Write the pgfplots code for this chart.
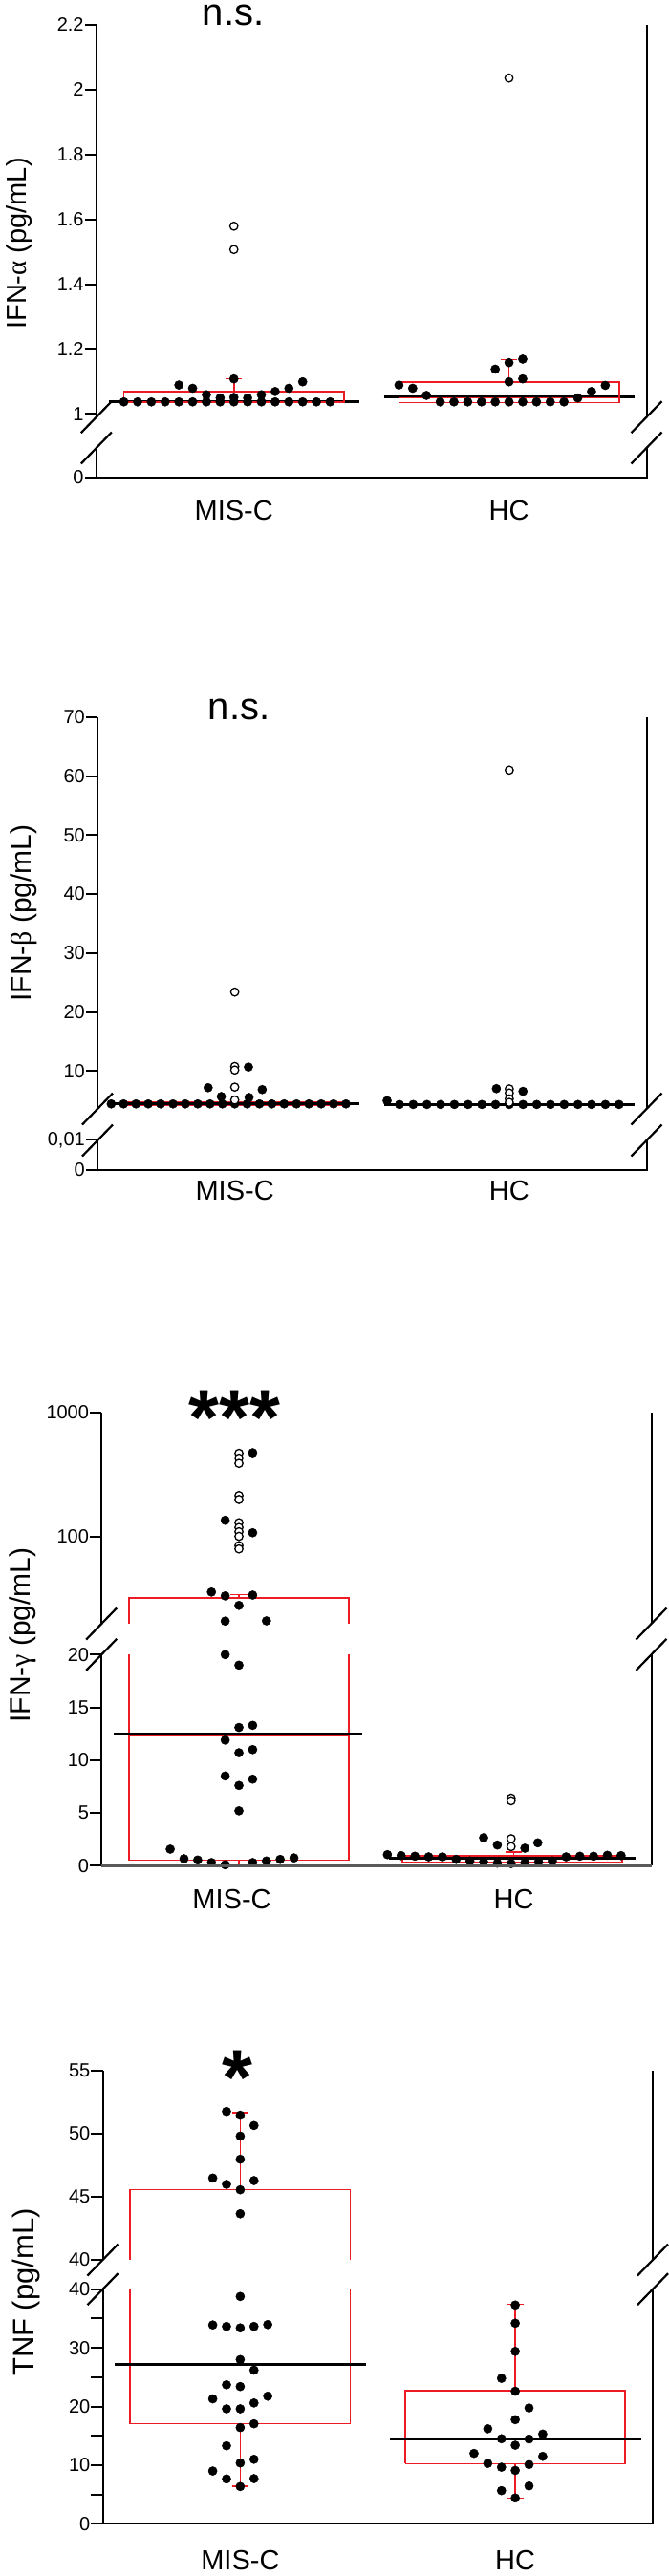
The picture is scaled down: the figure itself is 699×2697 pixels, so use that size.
\documentclass[border=0pt]{standalone}
\usepackage{pgfplots}
\pgfplotsset{compat=1.18}
\usepackage{fontspec}
\setmainfont{Liberation Sans}
\newfontfamily\grk{Liberation Serif}
\definecolor{boxred}{RGB}{237,28,36}
\newcommand{\tickA}{\fontsize{20}{23}\selectfont}
\newcommand{\tickB}{\fontsize{20}{23}\selectfont}
\newcommand{\labf}{\fontsize{29}{34}\selectfont}
\newcommand{\brkmark}[2]{\draw[line width=2.2pt] ({#1pt-16pt},{-#2pt-16.5pt}) -- ({#1pt+16pt},{-#2pt+16.5pt});}
\pgfplotsset{
  brk/.style={scale only axis, xmin=-0.5, xmax=1.5, axis line style={draw=none},
    xtick=\empty, ytick pos=left, tick align=outside, major tick length=12pt, minor tick length=12pt,
    tick style={black, line width=2pt}, yticklabel style={inner sep=1pt, font=\tickB},
    scaled y ticks=false,
    /pgf/number format/assume math mode=true, /pgf/number format/1000 sep={}},
  low/.style={xtick={0,1}, xticklabels={MIS-C,HC}, xtick style={draw=none},
    xticklabel style={font=\labf, anchor=center, yshift=-23pt}},
  dots/.style={only marks, mark=*, mark size=4.6pt, mark options={fill=black, draw=black, line width=0.4pt}},
  opens/.style={only marks, mark=*, mark size=4.2pt, mark options={fill=white, draw=black, line width=1.3pt}},
  rbox/.style={draw=boxred, line width=1.6pt, no marks},
  med/.style={draw=black, line width=3pt, no marks},
}
\begin{document}
\begin{tikzpicture}
\useasboundingbox (0pt,0pt) rectangle (699pt,-2697pt);

%================ Panel 1: IFN-alpha ================
\begin{axis}[brk, name=p1u, at={(100.8pt,-436.7pt)}, anchor=south west, width=575.7pt, height=410.7pt,
  ymin=0.99, ymax=2.2, ytick={1,1.2,1.4,1.6,1.8,2,2.2}, yticklabels={1,1.2,1.4,1.6,1.8,2,2.2},
  yticklabel style={font=\tickA}]
\addplot[med] coordinates {(-0.455,1.037) (0.455,1.037)};
\addplot[med] coordinates {(0.545,1.052) (1.455,1.052)};
\addplot[dots] coordinates {(-0.40,1.037) (-0.35,1.037) (-0.30,1.037) (-0.25,1.037) (-0.20,1.037) (-0.15,1.037) (-0.10,1.037) (-0.05,1.037) (0,1.037) (0.05,1.037) (0.10,1.037) (0.15,1.037) (0.20,1.037) (0.25,1.037) (0.30,1.037) (0.35,1.037)
 (-0.20,1.089) (-0.15,1.079) (-0.10,1.059) (-0.05,1.049) (0,1.051) (0.05,1.049) (0.10,1.059) (0.15,1.069) (0.20,1.079) (0.25,1.099) (0,1.108)};
\addplot[dots] coordinates {(0.60,1.089) (0.65,1.079) (0.70,1.057) (0.75,1.037) (0.80,1.037) (0.85,1.037) (0.90,1.037) (0.95,1.037) (1.00,1.037) (1.05,1.037) (1.10,1.037) (1.15,1.037) (1.20,1.037) (1.25,1.049) (1.30,1.069) (1.35,1.088) (0.95,1.138) (1.00,1.158) (1.05,1.169) (1.00,1.099) (1.05,1.108)};
\addplot[opens] coordinates {(0,1.579) (0,1.507) (1,2.036)};
\addplot[rbox] coordinates {(-0.4,1.037) (0.4,1.037) (0.4,1.069) (-0.4,1.069) (-0.4,1.037)};
\addplot[rbox] coordinates {(0,1.069) (0,1.108)};
\addplot[rbox] coordinates {(-0.03,1.108) (0.03,1.108)};
\addplot[rbox] coordinates {(0.6,1.035) (1.4,1.035) (1.4,1.099) (0.6,1.099) (0.6,1.035)};
\addplot[rbox] coordinates {(0.6,1.049) (1.4,1.049)};
\addplot[rbox] coordinates {(1,1.099) (1,1.167)};
\addplot[rbox] coordinates {(0.97,1.167) (1.03,1.167)};
\end{axis}
\begin{axis}[brk, low, name=p1l, at={(100.8pt,-500pt)}, anchor=south west, width=575.7pt, height=31pt,
  ymin=0, ymax=1, ytick={0}, yticklabel style={font=\tickA}]
\addplot[draw=none] coordinates {(0,0.5)};
\end{axis}
\draw[line width=2pt] (p1u.south west) -- (p1u.north west);
\draw[line width=2pt] (p1u.south east) -- (p1u.north east);
\draw[line width=2pt] (p1l.north west) -- (p1l.south west) -- (p1l.south east) -- (p1l.north east);
\brkmark{100.8}{436.7}\brkmark{100.8}{469}\brkmark{676.5}{436.7}\brkmark{676.5}{469}
\node[font=\fontsize{40}{48}\selectfont, anchor=base, inner sep=0pt] at (244pt,-27pt) {n.s.};
\node[rotate=90, font=\labf] at (20pt,-255pt) {IFN-{\grk α} (pg/mL)};

%================ Panel 2: IFN-beta ================
\begin{axis}[brk, name=p2u, at={(102pt,-1161pt)}, anchor=south west, width=574.5pt, height=410.3pt,
  ymin=3.6, ymax=70, ytick={10,20,30,40,50,60,70}, yticklabel style={font=\tickA}]
\addplot[dots] coordinates {(-0.45,4.45) (-0.405,4.45) (-0.36,4.45) (-0.315,4.45) (-0.27,4.45) (-0.225,4.45) (-0.18,4.45) (-0.135,4.45) (-0.09,4.45) (-0.045,4.45) (0,4.45) (0.045,4.45) (0.09,4.45) (0.135,4.45) (0.18,4.45) (0.225,4.45) (0.27,4.45) (0.315,4.45) (0.36,4.45) (0.405,4.45)
 (-0.097,7.2) (-0.049,5.7) (0.05,10.7) (0.052,5.55) (0.10,6.88)};
\addplot[dots] coordinates {(0.555,4.99) (0.60,4.35) (0.65,4.35) (0.70,4.35) (0.75,4.35) (0.80,4.35) (0.85,4.35) (0.90,4.35) (0.95,4.35) (1.00,4.35) (1.05,4.35) (1.10,4.35) (1.15,4.35) (1.20,4.35) (1.25,4.35) (1.30,4.35) (1.35,4.35) (1.40,4.35) (0.953,7.04) (1.05,6.58)};
\addplot[rbox] coordinates {(-0.4,4.15) (0.4,4.15) (0.4,4.8) (-0.4,4.8) (-0.4,4.15)};
\addplot[rbox] coordinates {(0.6,4.2) (1.4,4.2) (1.4,4.5) (0.6,4.5) (0.6,4.2)};
\addplot[med] coordinates {(-0.45,4.45) (0.455,4.45)};
\addplot[med] coordinates {(0.545,4.35) (1.455,4.35)};
\addplot[opens] coordinates {(0,23.4) (0,10.8) (0,10.2) (0,7.3) (0,5.1) (1,61.0) (1,7.0) (1,6.3) (1,5.3) (1,4.7)};
\end{axis}
\begin{axis}[brk, low, name=p2l, at={(102pt,-1225pt)}, anchor=south west, width=574.5pt, height=31.7pt,
  ymin=0, ymax=0.01, ytick={0,0.01}, yticklabels={0,{0,01}}, yticklabel style={font=\tickA},
  xticklabel style={yshift=13.3pt}]
\addplot[draw=none] coordinates {(0,0.005)};
\end{axis}
\draw[line width=2pt] (p2u.south west) -- (p2u.north west);
\draw[line width=2pt] (p2u.south east) -- (p2u.north east);
\draw[line width=2pt] (p2l.north west) -- (p2l.south west) -- (p2l.south east) -- (p2l.north east);
\brkmark{102}{1161}\brkmark{102}{1194}\brkmark{676.5}{1161}\brkmark{676.5}{1194}
\node[font=\fontsize{40}{48}\selectfont, anchor=base, inner sep=0pt] at (250pt,-753pt) {n.s.};
\node[rotate=90, font=\fontsize{30}{35}\selectfont] at (24.6pt,-956pt) {IFN-{\grk β} (pg/mL)};

%================ Panel 3: IFN-gamma ================
\begin{axis}[brk, name=p3u, at={(106.2pt,-1700pt)}, anchor=south west, width=575.3pt, height=221pt,
  ymode=log, ymin=20, ymax=1000, ytick={100,1000}, yticklabels={100,1000}, yminorticks=false]
\addplot[dots] coordinates {(0.05,475) (-0.05,136) (0.05,108) (-0.10,36) (-0.05,33.5) (0.05,34) (0,28.1) (-0.05,21) (0.10,21.1)};
\addplot[opens] coordinates {(0,470) (0,430) (0,390) (0,215) (0,200) (0,130) (0,119) (0,110) (0,101) (0,85) (0,80)};
\addplot[rbox] coordinates {(-0.4,20) (-0.4,32.4) (0.4,32.4) (0.4,20)};
\addplot[rbox] coordinates {(0,32.4) (0,34.4)};
\addplot[rbox] coordinates {(-0.03,34.4) (0.03,34.4)};
\end{axis}
\begin{axis}[brk, low, name=p3l, at={(106.2pt,-1953.3pt)}, anchor=south west, width=575.3pt, height=221pt,
  ymin=0, ymax=20, ytick={0,5,10,15,20}, xticklabels={\hspace*{-15pt}MIS-C,HC}]
\addplot[dots] coordinates {(-0.05,20.0) (0,19.0) (0,13.1) (0.05,13.3) (-0.05,11.9) (0,10.7) (0.05,11.0) (-0.05,8.5) (0.05,8.2) (0,7.6) (0,5.2) (-0.25,1.57) (-0.20,0.66) (-0.15,0.54) (-0.10,0.3) (-0.05,0.09) (0.05,0.3) (0.10,0.45) (0.15,0.6) (0.20,0.74)};
\addplot[dots] coordinates {(0.54,1.05) (0.59,0.96) (0.64,0.9) (0.69,0.84) (0.74,0.84) (0.79,0.6) (0.84,0.45) (0.89,0.36) (0.94,0.24) (0.99,0.2) (1.04,0.27) (1.09,0.36) (1.14,0.45) (1.19,0.84) (1.24,0.9) (1.29,0.9) (1.34,0.99) (1.39,0.96)
 (0.89,2.65) (0.94,1.96) (1.04,1.66) (1.087,2.17)};
\addplot[opens] coordinates {(0.99,6.4) (0.99,6.15) (0.99,2.56) (0.99,1.81)};
\addplot[rbox] coordinates {(-0.4,20) (-0.4,0.51) (0.4,0.51) (0.4,20)};
\addplot[rbox] coordinates {(-0.4,12.3) (0.4,12.3)};
\addplot[rbox] coordinates {(0,0.51) (0,0)};
\addplot[rbox] coordinates {(-0.03,0) (0.03,0)};
\addplot[rbox] coordinates {(0.595,0.3) (1.393,0.3) (1.393,0.96) (0.595,0.96) (0.595,0.3)};
\addplot[rbox] coordinates {(1,0.96) (1,1.27)};
\addplot[rbox] coordinates {(0.97,1.27) (1.03,1.27)};
\addplot[rbox] coordinates {(1,0.3) (1,0)};
\addplot[rbox] coordinates {(0.97,0) (1.03,0)};
\addplot[med] coordinates {(-0.455,12.5) (0.45,12.5)};
\addplot[med] coordinates {(0.544,0.75) (1.443,0.75)};
\end{axis}
\draw[line width=2pt] (p3u.south west) -- (p3u.north west);
\draw[line width=2pt] (p3u.south east) -- (p3u.north east);
\draw[line width=2pt] (p3l.north west) -- (p3l.south west);
\draw[line width=2pt] (p3l.south east) -- (p3l.north east);
\draw[line width=3pt, black!65] (p3l.south west) -- (p3l.south east);
\brkmark{106.2}{1700}\brkmark{106.2}{1732.3}\brkmark{681.5}{1700}\brkmark{681.5}{1732.3}
\node[font=\bfseries\fontsize{82}{90}\selectfont, anchor=base] at (245.5pt,-1512pt) {***};
\node[rotate=90, font=\fontsize{30}{35}\selectfont] at (23.5pt,-1712pt) {IFN-{\grk γ} (pg/mL)};

%================ Panel 4: TNF ================
\begin{axis}[brk, name=p4u, at={(107.5pt,-2366pt)}, anchor=south west, width=575.5pt, height=198.3pt,
  ymin=40, ymax=55, ytick={40,45,50,55}]
\addplot[dots] coordinates {(-0.05,51.75) (0,51.45) (0.05,50.64) (0,49.8) (0,47.97) (-0.10,46.48) (-0.05,45.98) (0.05,46.28) (0,45.55) (0,43.65)};
\addplot[rbox] coordinates {(-0.4,40) (-0.4,45.55) (0.4,45.55) (0.4,40)};
\addplot[rbox] coordinates {(0,45.55) (0,51.65)};
\addplot[rbox] coordinates {(-0.03,51.65) (0.03,51.65)};
\end{axis}
\begin{axis}[brk, low, name=p4l, at={(107.5pt,-2642.3pt)}, anchor=south west, width=575.5pt, height=245.6pt,
  ymin=0, ymax=40, ytick={0,10,20,30,40}, minor ytick={5,15,25,35}, xticklabel style={yshift=-3pt}]
\addplot[dots] coordinates {(0,38.76) (-0.10,33.9) (-0.05,33.65) (0,33.4) (0.05,33.65) (0.10,33.97) (0,28.0) (0.05,26.2) (-0.05,23.7) (0,23.4) (0.10,21.76) (-0.10,21.3) (-0.05,19.6) (0,19.6) (0.05,20.6) (0,16.4) (0.05,17.05) (-0.05,13.3) (0,10.37) (0.05,11.0) (-0.10,9.0) (-0.05,7.65) (0.05,7.7) (0,6.35)};
\addplot[dots] coordinates {(1.00,37.3) (1.00,34.2) (1.00,29.4) (0.95,24.8) (1.00,22.6) (1.05,19.75) (1.00,17.75) (0.90,16.2) (0.95,14.5) (1.05,14.45) (1.10,15.3) (1.00,13.4) (0.85,12.0) (1.10,11.5) (0.90,10.3) (0.95,9.65) (1.00,9.1) (1.05,10.1) (0.95,5.65) (1.05,6.45) (1.00,4.4)};
\addplot[rbox] coordinates {(-0.4,40) (-0.4,17.05) (0.4,17.05) (0.4,40)};
\addplot[rbox] coordinates {(-0.4,27.0) (0.4,27.0)};
\addplot[rbox] coordinates {(0,17.05) (0,6.4)};
\addplot[rbox] coordinates {(-0.03,6.4) (0.03,6.4)};
\addplot[rbox] coordinates {(0.6,10.25) (1.4,10.25) (1.4,22.7) (0.6,22.7) (0.6,10.25)};
\addplot[rbox] coordinates {(1,22.7) (1,37.4)};
\addplot[rbox] coordinates {(0.97,37.4) (1.03,37.4)};
\addplot[rbox] coordinates {(1,10.25) (1,4.4)};
\addplot[rbox] coordinates {(0.97,4.4) (1.03,4.4)};
\addplot[med] coordinates {(-0.455,27.1) (0.456,27.1)};
\addplot[med] coordinates {(0.545,14.4) (1.458,14.4)};
\end{axis}
\draw[line width=2pt] (p4u.south west) -- (p4u.north west);
\draw[line width=2pt] (p4u.south east) -- (p4u.north east);
\draw[line width=2pt] (p4l.north west) -- (p4l.south west) -- (p4l.south east) -- (p4l.north east);
\brkmark{107.5}{2366}\brkmark{107.5}{2396.7}\brkmark{683}{2366}\brkmark{683}{2396.7}
\node[font=\bfseries\fontsize{82}{90}\selectfont, anchor=base] at (248.6pt,-2203pt) {*};
\node[rotate=90, font=\fontsize{31}{36}\selectfont] at (27pt,-2400pt) {TNF (pg/mL)};
\end{tikzpicture}
\end{document}
